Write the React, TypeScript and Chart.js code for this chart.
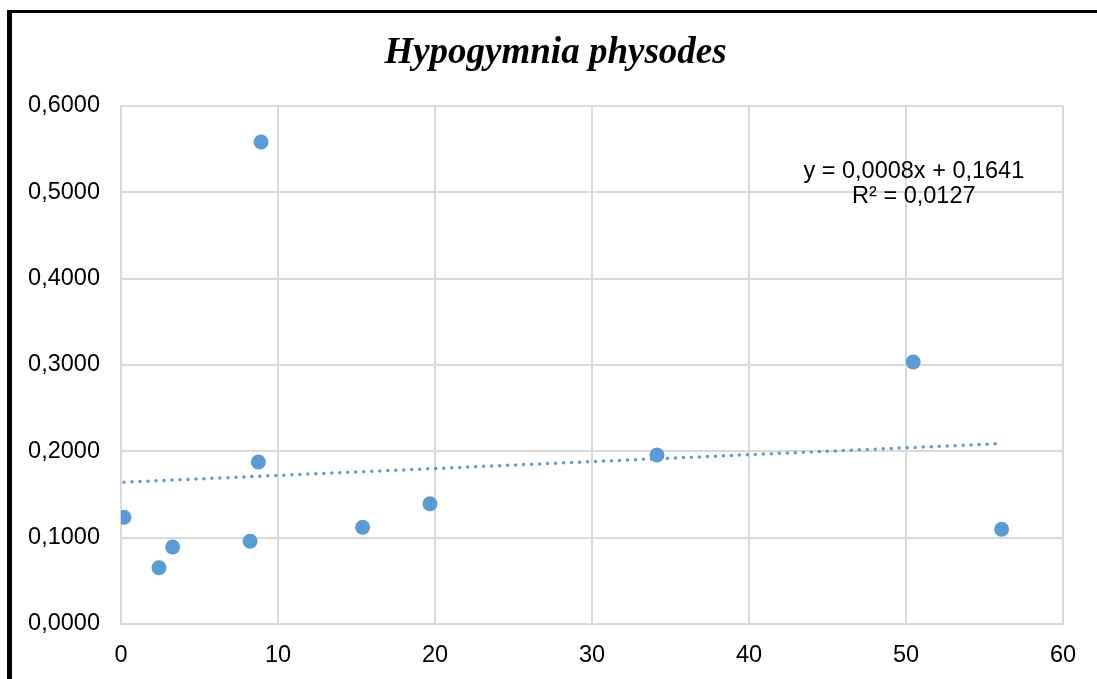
import React, { useEffect, useRef } from "react";
import { Chart, registerables } from "chart.js";

Chart.register(...registerables);

const titleText = "Hypogymnia physodes";
const xValues = [0.19, 2.42, 3.29, 8.22, 8.75, 8.92, 15.39, 19.68, 34.14, 50.46, 56.09];
const yValues = [0.1236, 0.0652, 0.0892, 0.0958, 0.1877, 0.5583, 0.112, 0.1393, 0.1958, 0.3035, 0.1097];
const trendSlope = 0.0008;
const trendIntercept = 0.1641;
const equationLines = ["y = 0,0008x + 0,1641", "R² = 0,0127"];
const equationAnchor = { x: 50.5, y1: 0.524, y2: 0.495 };
const xTicks = { min: 0, max: 60, step: 10 };
const yTicks = { min: 0, max: 0.6, step: 0.1 };

const BLUE = "#5B9BD5";
const GRID = "#d9d9d9";
const SANS = '"Liberation Sans", Arial, sans-serif';
const SERIF = '"Liberation Serif", "Times New Roman", serif';

const labelsPlugin = {
  id: "labels",
  afterDraw(chart: any) {
    const { ctx, scales } = chart;
    const xs = scales.x;
    const ys = scales.y;
    ctx.save();
    // title
    ctx.font = `italic bold 37px ${SERIF}`;
    ctx.fillStyle = "#000";
    ctx.textAlign = "center";
    ctx.textBaseline = "alphabetic";
    ctx.fillText(titleText, 555.5, 63);
    // trendline equation
    ctx.font = `23.5px ${SANS}`;
    ctx.textBaseline = "middle";
    const px = xs.getPixelForValue(equationAnchor.x);
    ctx.fillText(equationLines[0], px, ys.getPixelForValue(equationAnchor.y1));
    ctx.fillText(equationLines[1], px, ys.getPixelForValue(equationAnchor.y2));
    ctx.restore();
  },
};

export default function App() {
  const canvasRef = useRef<HTMLCanvasElement | null>(null);

  useEffect(() => {
    if (!canvasRef.current) return;
    const points = xValues.map((x, i) => ({ x, y: yValues[i] }));
    const minX = Math.min(...xValues);
    const maxX = Math.max(...xValues);
    const trend = [minX, maxX].map((x) => ({ x, y: trendSlope * x + trendIntercept }));

    const chart = new Chart(canvasRef.current, {
      type: "scatter",
      data: {
        datasets: [
          {
            type: "scatter",
            label: "data",
            data: points,
            backgroundColor: BLUE,
            borderWidth: 0,
            pointRadius: 7.5,
            order: 0,
          },
          {
            type: "line",
            label: "trend",
            data: trend,
            borderColor: BLUE,
            borderWidth: 3.5,
            borderDash: [0, 8],
            borderCapStyle: "round",
            pointRadius: 0,
            fill: false,
            order: 1,
          } as any,
        ],
      },
      options: {
        responsive: false,
        animation: false,
        layout: { padding: { left: 0, right: 34, top: 106, bottom: 0 } },
        plugins: {
          legend: { display: false },
          tooltip: { enabled: false },
          title: { display: false },
        },
        scales: {
          x: {
            type: "linear",
            min: xTicks.min,
            max: xTicks.max,
            ticks: {
              stepSize: xTicks.step,
              color: "#000",
              font: { family: SANS, size: 23.5 },
              padding: 17,
              maxRotation: 0,
            },
            grid: { color: GRID, lineWidth: 2, drawTicks: false },
            border: { color: GRID, width: 2 },
            afterFit: (scale: any) => {
              scale.height = 55;
            },
          },
          y: {
            type: "linear",
            min: yTicks.min,
            max: yTicks.max,
            ticks: {
              stepSize: yTicks.step,
              color: "#000",
              font: { family: SANS, size: 23.5 },
              padding: 21,
              callback: (v: any) => Number(v).toFixed(4).replace(".", ","),
            },
            grid: { color: GRID, lineWidth: 2, drawTicks: false },
            border: { color: GRID, width: 2 },
            afterFit: (scale: any) => {
              scale.width = 121;
            },
          },
        },
      },
      plugins: [labelsPlugin],
    });
    return () => chart.destroy();
  }, []);

  return (
    <div style={{ position: "absolute", left: 0, top: 0, width: 1097, height: 679, background: "#fff", overflow: "hidden" }}>
      <canvas ref={canvasRef} width={1097} height={679} style={{ position: "absolute", left: 0, top: 0 }} />
      <div style={{ position: "absolute", left: 7, top: 10, width: 5, height: 669, background: "#000", pointerEvents: "none" }} />
      <div style={{ position: "absolute", left: 7, top: 10, width: 1090, height: 3, background: "#000", pointerEvents: "none" }} />
    </div>
  );
}
